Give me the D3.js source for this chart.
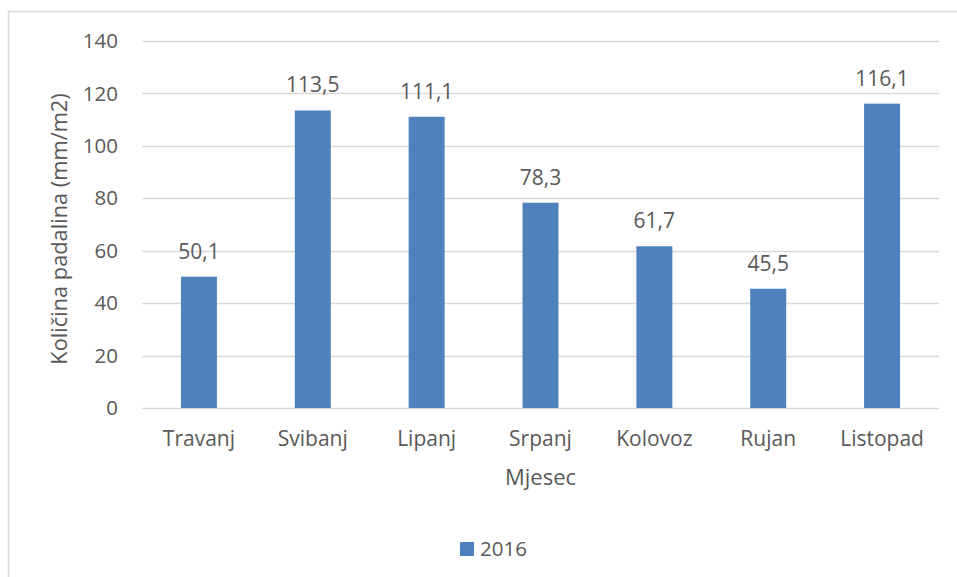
<!DOCTYPE html>
<html>
<head>
<meta charset="utf-8">
<script src="https://cdn.jsdelivr.net/npm/d3@7"></script>
<style>
	body { margin: 0; background: #fff; }
	svg text { font-family: "Open Sans", sans-serif; fill: #595959; }
</style>
</head>
<body>
<div id="chart"></div>
<script>
var months = ["Travanj", "Svibanj", "Lipanj", "Srpanj", "Kolovoz", "Rujan", "Listopad"];
var rain2016 = [50.1, 113.5, 111.1, 78.3, 61.7, 45.5, 116.1];
var yTicks = [0, 20, 40, 60, 80, 100, 120, 140];
var seriesName = "2016";

var w = 957, h = 577,
	plot = {left: 142, right: 939, top: 41, bottom: 408},
	barColor = "#4f81bd";

var svg = d3.select("#chart").append("svg")
	.attr("width", w)
	.attr("height", h);

// chart border
svg.append("rect")
	.attr("x", 8.5)
	.attr("y", 11.5)
	.attr("width", w)
	.attr("height", h)
	.style("fill", "none")
	.style("stroke", "#d9d9d9")
	.style("stroke-width", 1.5);

var x = d3.scaleBand()
	.domain(months)
	.range([plot.left, plot.right])
	.paddingInner(0.684)
	.paddingOuter(0.342);

var y = d3.scaleLinear()
	.domain([0, 140])
	.range([plot.bottom, plot.top]);

// gridlines
svg.append("g").selectAll("line")
	.data(yTicks)
	.enter().append("line")
	.attr("x1", plot.left)
	.attr("x2", plot.right)
	.attr("y1", function(d){ return Math.round(y(d)) + 0.5; })
	.attr("y2", function(d){ return Math.round(y(d)) + 0.5; })
	.style("stroke", "#d9d9d9")
	.style("stroke-width", 1.3);

// y tick labels
svg.append("g").selectAll("text")
	.data(yTicks)
	.enter().append("text")
	.attr("x", 118)
	.attr("y", function(d){ return y(d); })
	.attr("dy", "0.35em")
	.attr("text-anchor", "end")
	.style("font-size", "20.5px")
	.text(function(d){ return d; });

// bars
svg.append("g").selectAll("rect")
	.data(rain2016)
	.enter().append("rect")
	.attr("x", function(d, i){ return x(months[i]); })
	.attr("y", function(d){ return y(d); })
	.attr("width", x.bandwidth())
	.attr("height", function(d){ return y(0) - y(d); })
	.style("fill", barColor);

// value labels
svg.append("g").selectAll("text")
	.data(rain2016)
	.enter().append("text")
	.attr("x", function(d, i){ return x(months[i]) + x.bandwidth() / 2; })
	.attr("y", function(d){ return y(d) - 18; })
	.attr("text-anchor", "middle")
	.style("font-size", "21px")
	.text(function(d){ return d.toFixed(1).replace(".", ","); });

// category labels
svg.append("g").selectAll("text")
	.data(months)
	.enter().append("text")
	.attr("x", function(d){ return x(d) + x.bandwidth() / 2; })
	.attr("y", 446)
	.attr("text-anchor", "middle")
	.style("font-size", "21px")
	.text(function(d){ return d; });

// axis titles
svg.append("text")
	.attr("x", (plot.left + plot.right) / 2)
	.attr("y", 485)
	.attr("text-anchor", "middle")
	.style("font-size", "22px")
	.text("Mjesec");

svg.append("text")
	.attr("transform", "translate(67,229) rotate(-90)")
	.attr("text-anchor", "middle")
	.style("font-size", "21.8px")
	.text("Količina padalina (mm/m2)");

// legend
var legend = svg.append("g")
	.attr("transform", "translate(460,542)");

legend.append("rect")
	.attr("width", 14)
	.attr("height", 14)
	.style("fill", barColor);

legend.append("text")
	.attr("x", 20)
	.attr("y", 14)
	.style("font-size", "20.5px")
	.text(seriesName);
</script>
</body>
</html>
